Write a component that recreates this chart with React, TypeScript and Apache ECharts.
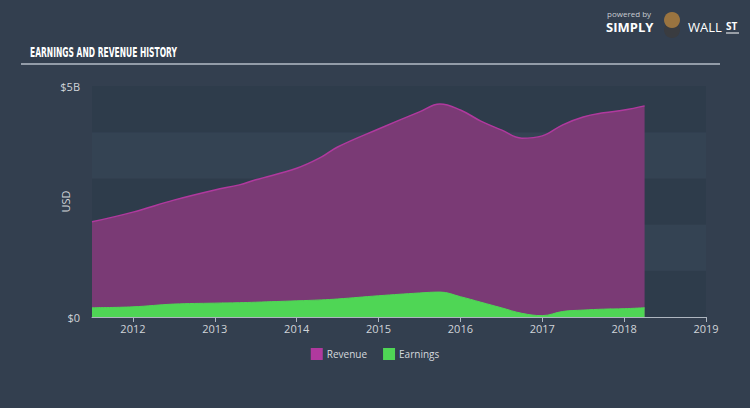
import React, { useEffect, useRef } from "react";
import * as echarts from "echarts";

const years = [2011.5, 2012, 2012.5, 2013, 2013.3, 2013.5, 2014, 2014.3, 2014.5, 2015, 2015.5, 2015.75, 2016, 2016.25, 2016.5, 2016.75, 2017, 2017.25, 2017.5, 2017.75, 2018, 2018.25];
const revenue = [2.06, 2.27, 2.53, 2.75, 2.86, 2.97, 3.22, 3.46, 3.68, 4.07, 4.44, 4.61, 4.48, 4.24, 4.05, 3.87, 3.92, 4.16, 4.33, 4.42, 4.48, 4.57];
const earnings = [0.2, 0.22, 0.28, 0.3, 0.31, 0.32, 0.35, 0.37, 0.39, 0.46, 0.52, 0.54, 0.44, 0.32, 0.2, 0.08, 0.03, 0.12, 0.15, 0.17, 0.18, 0.2];
const tickYears = [2012, 2013, 2014, 2015, 2016, 2017, 2018, 2019];

export default function App() {
  const ref = useRef<HTMLDivElement>(null);
  useEffect(() => {
    const chart = echarts.init(ref.current!, null, { renderer: "svg" });
    const rev = years.map((y, i) => [y, revenue[i] * 1e9]);
    const ear = years.map((y, i) => [y, earnings[i] * 1e9]);
    chart.setOption({
      animation: false,
      backgroundColor: "#333f4f",
      grid: { left: 92, right: 44, top: 86, bottom: 91 },
      graphic: [
        {
          type: "text", x: 30, y: 46, scaleX: 0.54,
          style: { text: "EARNINGS AND REVENUE HISTORY", fill: "#ffffff", font: "bold 14px 'DejaVu Sans', sans-serif", textVerticalAlign: "top" },
        },
        { type: "line", shape: { x1: 21, y1: 64, x2: 720, y2: 64 }, style: { stroke: "#b4bcc6", lineWidth: 1.5 } },
        { type: "text", x: 607, y: 9, style: { text: "powered by", fill: "#c8ccd2", font: "8px 'Open Sans', sans-serif", textVerticalAlign: "top" } },
        { type: "text", x: 606, y: 20, style: { text: "SIMPLY", fill: "#ffffff", font: "bold 13px 'Open Sans', sans-serif", textVerticalAlign: "top" } },
        { type: "circle", shape: { cx: 672, cy: 30, r: 8 }, style: { fill: "#3a3c40" } },
        { type: "circle", shape: { cx: 672, cy: 20, r: 8 }, style: { fill: "#9a7440" } },
        { type: "text", x: 688, y: 20, style: { text: "WALL", fill: "#ffffff", font: "13px 'Open Sans', sans-serif", textVerticalAlign: "top" } },
        { type: "text", x: 726, y: 21, style: { text: "ST", fill: "#ffffff", font: "bold 10px 'Open Sans', sans-serif", textVerticalAlign: "top" } },
        { type: "line", shape: { x1: 726, y1: 33, x2: 739, y2: 33 }, style: { stroke: "#ffffff", lineWidth: 1 } },
      ],
      legend: {
        bottom: 43,
        left: "center",
        itemWidth: 12,
        itemHeight: 12,
        itemGap: 16,
        icon: "rect",
        textStyle: { color: "#d5d9de", fontSize: 10, fontFamily: "'Open Sans', sans-serif", padding: [0, 0, 0, -1] },
        data: ["Revenue", "Earnings"],
      },
      xAxis: {
        type: "value",
        min: 2011.5,
        max: 2019,
        axisLine: { show: true, lineStyle: { color: "#aeb6c0", width: 1 } },
        axisTick: { show: true, customValues: tickYears, length: 5, lineStyle: { color: "#aeb6c0" } },
        axisLabel: { customValues: tickYears, margin: 6, color: "#d0d4d9", fontSize: 11, fontFamily: "'Open Sans', sans-serif", formatter: (v: number) => String(v) },
        splitLine: { show: false },
      },
      yAxis: {
        type: "value",
        min: 0,
        max: 5e9,
        interval: 1e9,
        name: "USD",
        nameLocation: "middle",
        nameGap: 21,
        nameMoveOverlap: false,
        nameTextStyle: { color: "#d0d4d9", fontSize: 11, fontFamily: "'Open Sans', sans-serif" },
        axisLine: { show: false },
        axisTick: { show: false },
        axisLabel: {
          color: "#d0d4d9",
          fontSize: 11,
          margin: 12,
          fontFamily: "'Open Sans', sans-serif",
          formatter: (v: number) => (v === 0 ? "$0" : v === 5e9 ? "$5B" : ""),
        },
        splitLine: { show: false },
        splitArea: { show: true, areaStyle: { color: ["#2e3c4b", "#344353"] } },
      },
      series: [
        {
          name: "Revenue",
          type: "line",
          data: rev,
          smooth: 0.4,
          symbol: "none",
          lineStyle: { color: "#b0399e", width: 1.5 },
          itemStyle: { color: "#b0399e" },
          areaStyle: { color: "#7a3a75", opacity: 1 },
          z: 2,
        },
        {
          name: "Earnings",
          type: "line",
          data: ear,
          smooth: 0.4,
          symbol: "none",
          lineStyle: { color: "#4fd655", width: 1 },
          itemStyle: { color: "#4fd655" },
          areaStyle: { color: "#4fd655", opacity: 1 },
          z: 3,
        },
      ],
    });
    return () => chart.dispose();
  }, []);
  return <div ref={ref} style={{ width: 750, height: 408, position: "absolute", left: 0, top: 0 }} />;
}
